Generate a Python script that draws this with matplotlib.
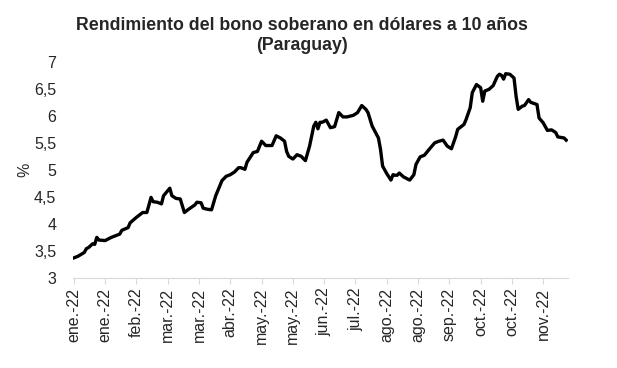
import matplotlib
matplotlib.use('Agg')
import matplotlib.pyplot as plt
from matplotlib.ticker import FuncFormatter

# observation number (business days since start) and yield in %
obs = [0, 2, 5, 6, 7, 9, 10, 11, 12, 15, 18, 20, 22, 23, 26, 27, 30, 31, 33, 35,
       37, 38, 40, 42, 43, 46, 47, 49, 51, 53, 55, 58, 59, 61, 62, 64, 66, 68, 71, 73,
       75, 77, 79, 80, 82, 83, 86, 88, 90, 92, 95, 97, 99, 101, 102, 103, 105, 107, 109, 111,
       113, 115, 116, 117, 118, 119, 121, 123, 125, 127, 129, 131, 134, 136, 138, 140, 141, 143, 146, 147,
       148, 150, 152, 153, 154, 155, 156, 158, 159, 161, 163, 164, 166, 168, 171, 173, 175, 177, 179, 181,
       183, 184, 187, 188, 190, 191, 193, 195, 196, 197, 199, 201, 203, 204, 205, 206, 207, 209, 211, 212,
       213, 215, 216, 218, 219, 222, 223, 225, 227, 229, 231, 232, 235, 236]
yields = [3.37, 3.40, 3.47, 3.54, 3.56, 3.63, 3.62, 3.75, 3.70, 3.69, 3.75, 3.78, 3.81, 3.88, 3.93, 4.02, 4.12, 4.15, 4.21, 4.21,
          4.49, 4.41, 4.40, 4.37, 4.52, 4.66, 4.52, 4.47, 4.46, 4.21, 4.27, 4.35, 4.40, 4.39, 4.29, 4.27, 4.26, 4.52, 4.80, 4.88,
          4.91, 4.96, 5.04, 5.04, 5.01, 5.14, 5.32, 5.34, 5.53, 5.45, 5.45, 5.63, 5.59, 5.53, 5.34, 5.25, 5.20, 5.28, 5.25, 5.17,
          5.44, 5.81, 5.88, 5.76, 5.88, 5.88, 5.92, 5.78, 5.80, 6.06, 5.98, 5.98, 6.01, 6.06, 6.19, 6.12, 6.06, 5.81, 5.59, 5.38,
          5.07, 4.93, 4.81, 4.91, 4.90, 4.90, 4.94, 4.87, 4.85, 4.81, 4.91, 5.10, 5.24, 5.27, 5.41, 5.50, 5.53, 5.55, 5.44, 5.39,
          5.61, 5.75, 5.84, 5.93, 6.15, 6.43, 6.58, 6.52, 6.27, 6.46, 6.49, 6.56, 6.73, 6.77, 6.75, 6.68, 6.78, 6.77, 6.70, 6.36,
          6.12, 6.18, 6.19, 6.30, 6.25, 6.21, 5.96, 5.87, 5.73, 5.74, 5.69, 5.61, 5.59, 5.55]

tick_labels = ['ene.-22', 'ene.-22', 'feb.-22', 'mar.-22', 'mar.-22', 'abr.-22', 'may.-22', 'may.-22',
               'jun.-22', 'jul.-22', 'ago.-22', 'ago.-22', 'sep.-22', 'oct.-22', 'oct.-22', 'nov.-22']
tick_pos = [i * 15 for i in range(len(tick_labels))]

plt.rcParams['font.family'] = ['Liberation Sans', 'DejaVu Sans']
txt = '#262626'

fig = plt.figure(figsize=(6.17, 3.68), dpi=100)
ax = fig.add_axes([0.118, 0.245, 0.803, 0.587])

ax.plot(obs, yields, color='black', linewidth=2.4, solid_joinstyle='round')

ax.set_xlim(-0.5, 237)
ax.set_ylim(3, 7)
ax.set_yticks([3, 3.5, 4, 4.5, 5, 5.5, 6, 6.5, 7])
ax.yaxis.set_major_formatter(FuncFormatter(lambda v, p: ('%g' % v).replace('.', ',')))
ax.set_xticks(tick_pos)
ax.set_xticklabels(tick_labels, rotation=90)

for s in ['top', 'right', 'left']:
    ax.spines[s].set_visible(False)
ax.spines['bottom'].set_color('#d9d9d9')
ax.tick_params(axis='y', length=0, pad=12, labelsize=11.5, labelcolor=txt)
ax.tick_params(axis='x', length=4, color='#d9d9d9', pad=3, labelsize=11.5, labelcolor=txt)

ax.set_ylabel('%', fontsize=11.5, color=txt, labelpad=1)
fig.suptitle('Rendimiento del bono soberano en dólares a 10 años\n(Paraguay)',
             x=0.49, y=0.955, fontsize=12.8, fontweight='bold', color=txt, linespacing=1.25)

fig.savefig('out.png', dpi=100)
